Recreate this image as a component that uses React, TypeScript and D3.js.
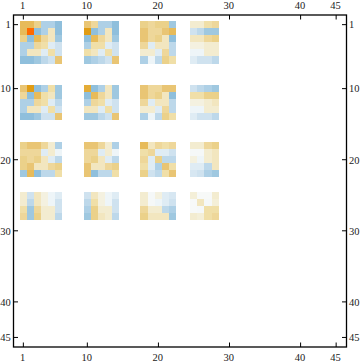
import React from "react";
import * as d3 from "d3";

const W = 360;
const H = 363;

// Matrix positions that hold data (1-based row/column numbers)
const rowIds = [1, 2, 3, 4, 5, 6, 10, 11, 12, 13, 14, 18, 19, 20, 21, 22, 25, 26, 27, 28];
const tickValues = [1, 10, 20, 30, 40, 45];

// Cell values, in tenths of the colour range
const rows1to6 = [
  [8, 8, 6, -5, -5, -7, 7, 5, -5, -5, -7, 6, 5, 6, 6, -6, 2, 2, 4, 5],
  [8, 10, -7, -5, 3, -7, 9, -7, -5, 3, -7, 7, 5, 5, 7, 8, -3, -4, -6, -6],
  [6, -7, 8, 5, 3, -6, -7, 8, 5, 3, -6, 7, 5, 6, 3, -7, 3, 3, 5, 6],
  [-5, -5, 5, 4, -2, -3, -5, 4, 4, -2, -3, 5, -2, 3, 3, -4, 1, 1, 2, 2],
  [-5, 3, 3, -2, 4, -3, 4, 3, -2, 4, -3, 2, 2, -2, 5, -4, -1, -1, 2, 2],
  [-7, -7, -6, -4, -3, 7, -6, -5, -4, -3, 7, -5, -1, -4, 6, 4, -2, -3, -3, -4],
];
const rows10to14 = [
  [7, 9, -7, -5, 4, -6, 8.5, -7, -5, 3, -6, 7, 5, 5, 7, 7, -3, -4, -5, -6],
  [5, -7, 8, 4, 3, -6, -7, 8, 5, 3, -6, 7, 5, 6, 3, -7, 4, 4, 6, 6],
  [-5, -5, 5, 4, -2, -4, -5, 5, 4, -2, -3, 5, -2, 3, 3, -4, 1, 1, 2, 3],
  [-5, 3, 3, -2, 4, -3, 3, 3, -2, 4, -3, 2, 2, -2, 5, -4, -1, -1, 2, 2],
  [-7, -7, -6, -3, -3, 7, -6, -6, -4, -3, 7, -5, -1, -4, 6, 4, -2, -3, -3, -4],
];
const rows18to22 = [
  [6, 7, 7, 5, 2, -5, 7, 7, 5, 2, -5, 8, 3, 5, 4, 5, 2, 2, 5, 6],
  [5, 5, 5, -2, 2, -1, 5, 5, -2, 2, -1, 4, 5, -2, -2, -3, -0.5, -0.5, 2, 3],
  [6, 5, 6, 3, -2, -4, 5, 6, 3, -2, -4, 5, -2, 6, -4, -4, 1, -1, 2, 3],
  [6, 7, 3, 3, 5, 6, 7, 3, 3, 5, 6, 4, -2, -5, 7, 4, -2, -2, -4, 3],
  [-6, 8, -7, -4, -4, 4, 7, -7, -4, -4, 4, 6, -3, -4, 4, 7, -2.5, -3, -5, -6],
];
const rows25to28 = [
  [2, -3, 3, 1, -1, -2, -3, 3, 1, -1, -2, 2, -0.5, 1, -2, -2.5, 1.5, -0.3, -0.3, 2],
  [2, -4, 3, 1, -1, -3, -4, 4, 1, -1, -3, 2, -0.5, -1, -2, -3, -0.3, 3, -0.5, 1.5],
  [4, -6, 5, 2, 2, -3, -5, 6, 2, 2, -3, 5, 2, 2, -4, -5, -0.3, -0.5, 4, 4],
  [5, -6, 6, 2, 2, -4, -6, 6, 3, 2, -4, 6, 3, 3, 3, -6, 2, 1.5, 4, 5],
];
const cellValues = [...rows1to6, ...rows10to14, ...rows18to22, ...rows25to28];

const colorStops = [-7, -6, -5, -4, -3, -2, -1, 0, 1, 2, 3, 4, 5, 6, 7, 8, 9, 10];
const colorValues = [
  "#8fbfdc", "#9fc8e0", "#aed0e6", "#bdd8ea", "#cfe2ef", "#dfecf4", "#eef5f8", "#fbfbf8",
  "#f4f1e0", "#f3ecd0", "#f2e6bf", "#f0dfa8", "#eed79a", "#ebd18a", "#e9c574", "#e7bb5a",
  "#e09c14", "#ff6a00",
];

export default function App() {
  const x = d3.scaleLinear().domain([0.5, 45.5]).range([20.1, 340]);
  const y = d3.scaleLinear().domain([0.5, 45.5]).range([21.4, 341.3]);
  const color = d3.scaleLinear<string>().domain(colorStops).range(colorValues);

  const frame = { left: 13.5, right: 346.5, top: 15, bottom: 347 };
  const tickLen = 4.5;
  const font = "'Liberation Serif', serif";

  return (
    <svg
      width={W}
      height={H}
      viewBox={`0 0 ${W} ${H}`}
      style={{ position: "absolute", left: 0, top: 0, background: "#fff" }}
    >
      <g shapeRendering="crispEdges">
        {cellValues.map((row, r) =>
          row.map((v, c) => {
            const x0 = Math.floor(x(rowIds[c] - 0.5));
            const x1 = Math.floor(x(rowIds[c] + 0.5));
            const y0 = Math.floor(y(rowIds[r] - 0.5));
            const y1 = Math.floor(y(rowIds[r] + 0.5));
            return <rect key={`${r}-${c}`} x={x0} y={y0} width={x1 - x0} height={y1 - y0} fill={color(v)} />;
          })
        )}
      </g>
      <rect
        x={frame.left}
        y={frame.top}
        width={frame.right - frame.left}
        height={frame.bottom - frame.top}
        fill="none"
        stroke="#000"
        strokeWidth={1.3}
      />
      {tickValues.map((t) => (
        <g key={t} stroke="#000" strokeWidth={1}>
          <line x1={x(t) - 0.3} x2={x(t) - 0.3} y1={frame.top} y2={frame.top + tickLen} />
          <line x1={x(t) - 0.3} x2={x(t) - 0.3} y1={frame.bottom} y2={frame.bottom - tickLen} />
          <line y1={y(t) - 0.3} y2={y(t) - 0.3} x1={frame.left} x2={frame.left + tickLen} />
          <line y1={y(t) - 0.3} y2={y(t) - 0.3} x1={frame.right} x2={frame.right - tickLen} />
        </g>
      ))}
      <g fontFamily={font} fontSize={10.5} fill="#222">
        {tickValues.map((t) => (
          <g key={t}>
            <text x={x(t) - 1} y={9.3} textAnchor="middle">{t}</text>
            <text x={x(t) - 1} y={360.6} textAnchor="middle">{t}</text>
            <text x={10.7} y={y(t) + 3.5} textAnchor="end">{t}</text>
            <text x={349} y={y(t) + 3.5} textAnchor="start">{t}</text>
          </g>
        ))}
      </g>
    </svg>
  );
}
